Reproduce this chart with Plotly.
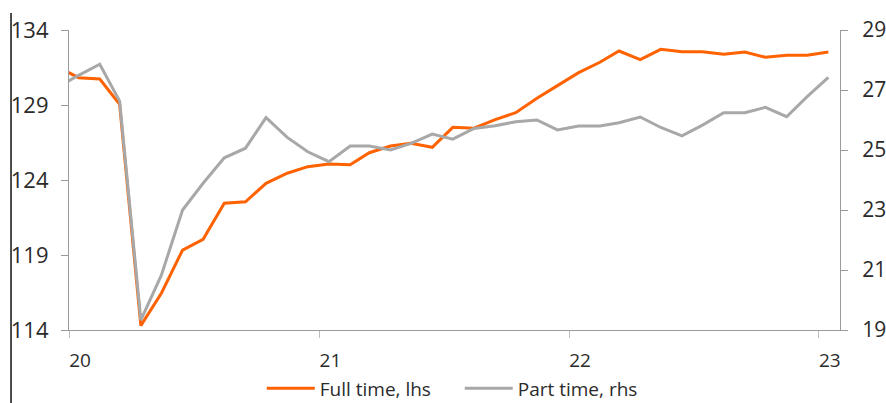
import plotly.graph_objects as go

# Monthly observations, Dec 2019 to Jan 2023 (plotted mid-month)
years = [2019] + [2020] * 12 + [2021] * 12 + [2022] * 12 + [2023]
months = [12] + list(range(1, 13)) * 3 + [1]
dates = [f"{y}-{m:02d}-15" for y, m in zip(years, months)]

full_time = [131.55, 130.82, 130.73, 129.05, 114.29, 116.45, 119.33, 120.05,
             122.45, 122.55, 123.78, 124.45, 124.89, 125.07, 125.02, 125.82,
             126.27, 126.45, 126.18, 127.51, 127.45, 128.03, 128.49, 129.45,
             130.29, 131.16, 131.85, 132.60, 132.03, 132.71, 132.55, 132.55,
             132.38, 132.53, 132.18, 132.31, 132.31, 132.53]

part_time = [27.09, 27.49, 27.86, 26.63, 19.33, 20.83, 23.00, 23.89,
             24.74, 25.06, 26.08, 25.42, 24.94, 24.61, 25.13, 25.13,
             25.00, 25.22, 25.53, 25.36, 25.72, 25.81, 25.94, 26.00,
             25.67, 25.80, 25.80, 25.91, 26.10, 25.75, 25.47, 25.83,
             26.24, 26.24, 26.42, 26.11, 26.78, 27.42]

left_ticks = [114, 119, 124, 129, 134]
right_ticks = [19, 21, 23, 25, 27, 29]

ORANGE = "#FF6200"
GREY = "#A8A8A8"
AXIS = "#9A9A9A"
TEXT = "#2B2B2B"
FONT = "Open Sans"

fig = go.Figure()
fig.add_trace(go.Scatter(x=dates, y=full_time, name="Full time, lhs",
                         mode="lines", line=dict(color=ORANGE, width=3),
                         yaxis="y"))
fig.add_trace(go.Scatter(x=dates, y=part_time, name="Part time, rhs",
                         mode="lines", line=dict(color=GREY, width=3),
                         yaxis="y2"))

fig.update_layout(
    width=886, height=403,
    margin=dict(l=69, r=46, t=30, b=73, autoexpand=False),
    paper_bgcolor="white", plot_bgcolor="white",
    font=dict(family=FONT, color=TEXT),
    showlegend=True,
    legend=dict(orientation="h", x=0.25, xanchor="left", y=-0.195,
                yanchor="middle", font=dict(size=19, color=TEXT),
                itemwidth=48, entrywidth=135, entrywidthmode="pixels",
                bgcolor="rgba(0,0,0,0)"),
    xaxis=dict(type="date", range=["2020-01-01", "2023-02-01"],
               tick0="2020-01-01", dtick="M12", tickformat="%y",
               showgrid=False, zeroline=False, automargin=False,
               showline=True, linecolor=AXIS, linewidth=1.2,
               ticks="outside", ticklen=7, tickcolor="#BDBDBD", tickwidth=1.2,
               ticklabelshift=11, ticklabelstandoff=6,
               tickfont=dict(size=19, color=TEXT)),
    yaxis=dict(range=[114, 134], tickvals=left_ticks,
               showgrid=False, zeroline=False, automargin=False,
               showline=True, linecolor=AXIS, linewidth=1.2,
               ticks="outside", ticklen=7, tickcolor=AXIS, tickwidth=1.2,
               ticklabelstandoff=8,
               tickfont=dict(size=22, color=TEXT)),
    yaxis2=dict(range=[19, 29], tickvals=right_ticks, overlaying="y",
                side="right", showgrid=False, zeroline=False, automargin=False,
                showline=True, linecolor=AXIS, linewidth=1.2,
                ticks="outside", ticklen=7, tickcolor=AXIS, tickwidth=1.2,
                ticklabelstandoff=10,
                tickfont=dict(size=21, color=TEXT)),
    shapes=[dict(type="line", xref="paper", yref="paper",
                 x0=-0.0752, x1=-0.0752, y0=1.0567, y1=-0.25,
                 line=dict(color="#111111", width=1.5))],
)

fig.write_html("out.html")
